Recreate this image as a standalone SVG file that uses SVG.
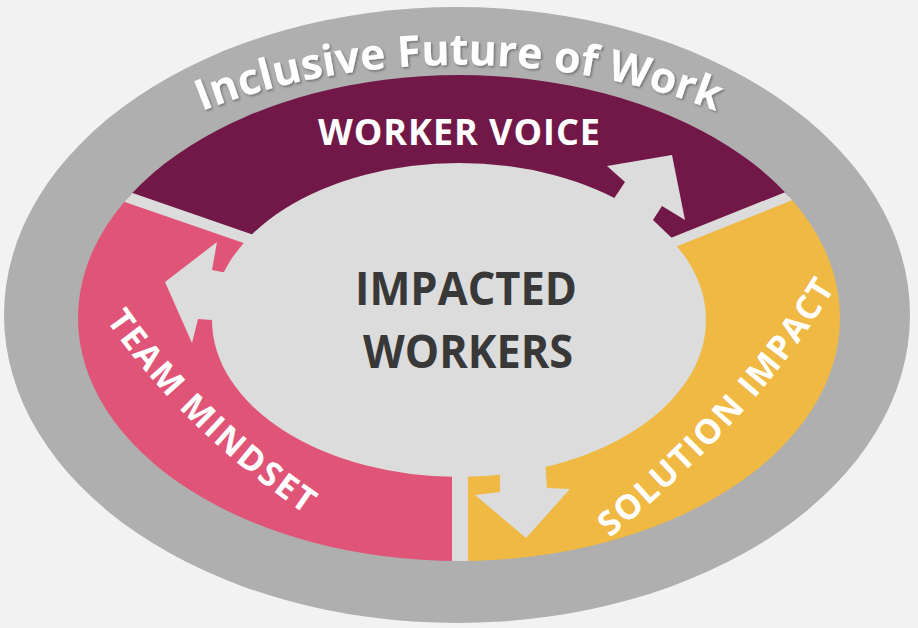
<svg xmlns="http://www.w3.org/2000/svg" width="918" height="628" viewBox="0 0 918 628">
  <style>
    .lbl { font-family: "Open Sans", "Liberation Sans", sans-serif; font-weight: 700; fill: #ffffff; }
    .center { font-family: "Open Sans", "Liberation Sans", sans-serif; font-weight: 700; fill: #383838; font-size: 46px; text-anchor: middle; }
    .gap { stroke: #dcdcdc; fill: none; }
    .hole { fill: #dcdcdc; }
  </style>
  <defs>
    <clipPath id="ringClip">
      <ellipse cx="459" cy="318" rx="381" ry="243"/>
    </clipPath>
    <filter id="shadow" x="-10%" y="-30%" width="120%" height="160%">
      <feDropShadow dx="1.5" dy="1.5" stdDeviation="1" flood-color="#000000" flood-opacity="0.35"/>
    </filter>
    <path id="titlePath" d="M 13,318 A 446 253 0 0 1 905,318"/>
    <path id="teamPath" d="M 106,320 Q 190,440 326,528"/>
    <path id="solPath" d="M 610,538 Q 765,410 842,276"/>
  </defs>

  <rect x="0" y="0" width="918" height="628" fill="#f2f2f2"/>

  <g id="outer-frame">
    <ellipse cx="457" cy="315" rx="453" ry="308" fill="#afafaf"/>
  </g>

  <g id="ring" clip-path="url(#ringClip)">
    <g id="worker-voice-segment">
      <polygon points="-95,120 481,319 1008,108 1008,-20 -95,-20" fill="#721848"/>
    </g>
    <g id="team-mindset-segment">
      <polygon points="-95,120 481,319 460,330 460,650 -95,650" fill="#e05577"/>
    </g>
    <g id="solution-impact-segment">
      <polygon points="481,319 1008,108 1008,650 460,650 460,330" fill="#efb944"/>
    </g>
    <line class="gap" x1="60" y1="173.8" x2="270" y2="246.3" stroke-width="11"/>
    <line class="gap" x1="850" y1="171.6" x2="650" y2="251.6" stroke-width="10"/>
    <rect x="452" y="380" width="16" height="220" fill="#dcdcdc"/>
  </g>

  <g id="impacted-workers">
    <ellipse cx="459" cy="320" rx="247" ry="157" fill="#dcdcdc"/>
    <text class="center" x="466" y="305" textLength="222" lengthAdjust="spacingAndGlyphs">IMPACTED</text>
    <text class="center" x="468" y="368" textLength="210" lengthAdjust="spacingAndGlyphs">WORKERS</text>
  </g>

  <g id="connectors">
    <polygon class="hole" points="605,212 625,182 607,166 672,155 685,220 662,206 653,220 676,242 650,250"/>
    <polygon class="hole" points="217,242 165,282 192,343 198,319 212,320 240,320 240,272 222,272 212,270"/>
    <polygon class="hole" points="500,470 500,492 475,495 526,538 570,489 547,488 545,460"/>
  </g>

  <g id="title">
    <text class="lbl" font-size="43" font-weight="600" filter="url(#shadow)">
      <textPath href="#titlePath" startOffset="50%" text-anchor="middle">Inclusive Future of Work</textPath>
    </text>
  </g>

  <g id="worker-voice">
    <text class="lbl" x="459" y="145" font-size="36" text-anchor="middle" textLength="282">WORKER VOICE</text>
  </g>

  <g id="team-mindset">
    <text class="lbl" font-size="34">
      <textPath href="#teamPath" textLength="280">TEAM MINDSET</textPath>
    </text>
  </g>

  <g id="solution-impact">
    <text class="lbl" font-size="34">
      <textPath href="#solPath" textLength="338">SOLUTION IMPACT</textPath>
    </text>
  </g>
</svg>
